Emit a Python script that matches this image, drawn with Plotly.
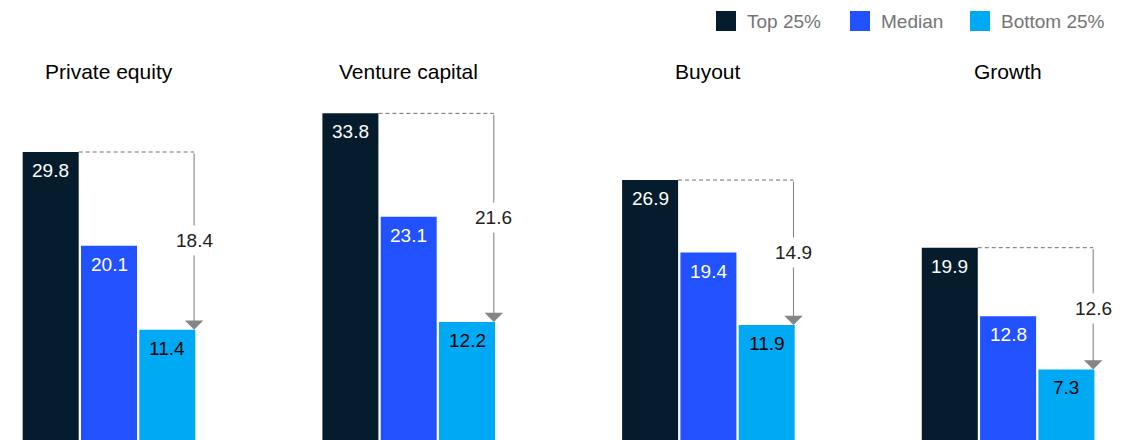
import plotly.graph_objects as go

categories = ["Private equity", "Venture capital", "Buyout", "Growth"]
series_names = ["Top 25%", "Median", "Bottom 25%"]
top25 = [29.8, 33.8, 26.9, 19.9]
median = [20.1, 23.1, 19.4, 12.8]
bottom25 = [11.4, 12.2, 11.9, 7.3]
gap_labels = ["18.4", "21.6", "14.9", "12.6"]

colors = ["#051C2C", "#2251FF", "#00A9F4"]
label_colors = ["#FFFFFF", "#FFFFFF", "#000000"]
FONT = "Liberation Sans, Arial, sans-serif"

W, H = 1122, 440
pitch_px = 299.7
slot = 58.3 / pitch_px
bw = 56.0 / pitch_px
px_per_unit = 9.664

series = [top25, median, bottom25]
gx = list(range(len(categories)))

fig = go.Figure()
for i, (name, vals) in enumerate(zip(series_names, series)):
    xs = [g + (i - 1) * slot for g in gx]
    fig.add_trace(go.Bar(
        x=xs, y=vals, name=name, width=bw,
        marker=dict(color=colors[i], line=dict(width=0)),
        showlegend=False, hoverinfo="skip",
    ))
    for x, v in zip(xs, vals):
        fig.add_annotation(
            x=x, y=v, xref="x", yref="y", text=f"{v:.1f}",
            showarrow=False, yanchor="top", yshift=-6,
            font=dict(family=FONT, size=19, color=label_colors[i]),
        )

# titles
for g, cat in zip(gx, categories):
    fig.add_annotation(
        x=g, y=1 - 71 / H, xref="x", yref="paper", text=cat,
        showarrow=False, yanchor="middle",
        font=dict(family=FONT, size=21, color="#000000"),
    )

# gap arrows
for g, t, b, lab in zip(gx, top25, bottom25, gap_labels):
    x_left = g - slot + bw / 2
    x_line = g + slot + bw / 2 - 1.2 / pitch_px
    fig.add_shape(type="line", xref="x", yref="y",
                  x0=x_left, x1=x_line, y0=t, y1=t,
                  line=dict(color="#6e6e6e", width=1, dash="4px,3px"))
    fig.add_annotation(
        x=x_line, y=b, ax=x_line, ay=t, xref="x", yref="y",
        axref="x", ayref="y", text="", showarrow=True,
        arrowhead=1, arrowsize=2.8, arrowwidth=1.1, arrowcolor="#858585",
    )
    fig.add_annotation(
        x=x_line, y=(t + b) / 2, xref="x", yref="y", text=lab,
        showarrow=False, bgcolor="#FFFFFF", borderpad=4,
        font=dict(family=FONT, size=19, color="#222222"),
    )

# manual legend
legend_sq_px = [716, 850, 970]
for name, c, sx in zip(series_names, colors, legend_sq_px):
    fig.add_shape(type="rect", xref="paper", yref="paper",
                  x0=sx / W, x1=(sx + 20) / W, y0=1 - 31 / H, y1=1 - 11 / H,
                  fillcolor=c, line=dict(width=0))
    fig.add_annotation(
        x=(sx + 29) / W, y=1 - 21 / H, xref="paper", yref="paper",
        text=name, showarrow=False, xanchor="left", yanchor="middle",
        font=dict(family=FONT, size=19, color="#757575"),
    )

fig.update_layout(
    width=W, height=H,
    margin=dict(l=0, r=0, t=0, b=0),
    paper_bgcolor="#FFFFFF", plot_bgcolor="#FFFFFF",
    barmode="overlay",
    xaxis=dict(range=[-109 / pitch_px, (W - 109) / pitch_px], visible=False,
               fixedrange=True),
    yaxis=dict(range=[0, H / px_per_unit], visible=False, fixedrange=True),
    showlegend=False,
)

fig.write_html(
    "out.html",
    config={"displayModeBar": False},
    post_script="document.body.style.margin='0';document.body.style.overflow='hidden';",
)
